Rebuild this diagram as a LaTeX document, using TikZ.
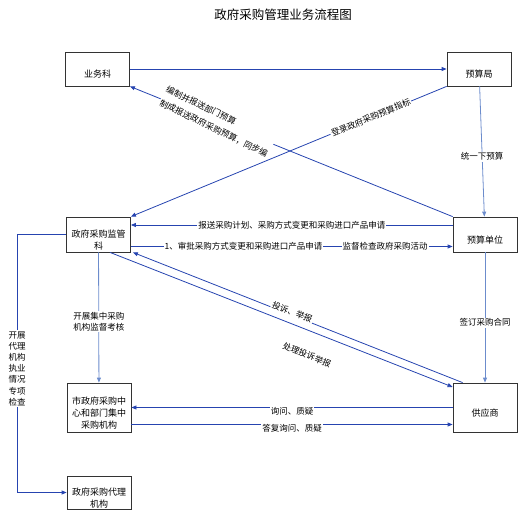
\documentclass[tikz,border=0pt]{standalone}
\usepackage{fontspec}
\setmainfont{Noto Sans CJK SC}
\usetikzlibrary{arrows.meta}

\definecolor{lineblue}{RGB}{38,68,176}
\definecolor{lightblue}{RGB}{108,140,204}
\newcommand{\boxtop}{\mbox{}\\[6pt]}

\tikzset{
    box/.style={draw=black!80, line width=0.8pt, minimum width=64pt, align=center, inner sep=1pt, font=\fontsize{9}{12}\selectfont},
    link/.style={draw=lineblue, line width=0.8pt, -{Triangle[length=5pt,width=4pt]}},
    vlink/.style={link, draw=lightblue},
    lbl/.style={fill=white, inner sep=1pt, align=center, font=\fontsize{8.5}{11}\selectfont}
}

\begin{document}
\begin{tikzpicture}[x=1pt, y=-1pt, font=\fontsize{9}{13}\selectfont]
        \useasboundingbox
            (0,0) rectangle (529,516);
        \node[font=\fontsize{12.5}{14}\selectfont] (title) at (283,15) {政府采购管理业务流程图};

        \node[box, minimum height=34pt] (yewu) at (97.5,69) {\boxtop 业务科};
        \node[box, minimum height=34pt] (ysj) at (479,69) {\boxtop 预算局};
        \node[box, minimum height=35pt] (jgk) at (98.5,234.5) {\boxtop 政府采购监管\\科};
        \node[box, minimum height=35pt] (ysdw) at (485,234.5) {\boxtop 预算单位};
        \node[box, minimum height=49pt] (szx) at (99,407.5) {\boxtop 市政府采购中\\心和部门集中\\采购机构};
        \node[box, minimum height=49pt] (gys) at (485,407.5) {\boxtop 供应商};
        \node[box, minimum height=33pt] (dl) at (99,492.5) {\boxtop 政府采购代理\\机构};

        \draw[link]
            (yewu) -- (ysj);
        \draw[link]
            (ysj.south west) -- node[lbl, sloped, pos=0.24]{登录政府采购预算指标} (jgk.north east);
        \draw[link]
            (ysdw.north west) -- node[lbl, rotate=-26, pos=0.73, align=left, font=\fontsize{8.5}{15}\selectfont]{编制并报送部门预算\\制成报送政府采购预算，同步编} (yewu.south east);
        \draw[vlink]
            (ysj) -- node[lbl, pos=0.54]{统一下预算} (ysdw);
        \draw[link]
            ([yshift=9.5pt]ysdw.west) -- node[lbl, pos=0.5]{报送采购计划、采购方式变更和采购进口产品申请} ([yshift=9.5pt]jgk.east);
        \draw[link]
            ([yshift=-12pt]jgk.east) -- node[lbl, pos=0.35]{1、审批采购方式变更和采购进口产品申请}
            node[lbl, pos=0.79]{监督检查政府采购活动} ([yshift=-12pt]ysdw.west);
        \draw[link]
            ([xshift=10pt]gys.north west) -- node[lbl, sloped, pos=0.52, yshift=3pt]{投诉、举报} ([xshift=2pt]jgk.south east);
        \draw[link]
            ([xshift=11.5pt]jgk.south) -- node[lbl, sloped, pos=0.6, anchor=north, yshift=-18pt]{处理投诉举报} ([yshift=20.5pt]gys.west);
        \draw[vlink]
            (jgk) -- node[lbl, pos=0.53]{开展集中采购\\机构监督考核} (szx);
        \draw[vlink]
            (ysdw) -- node[lbl, pos=0.54]{签订采购合同} (gys);
        \draw[link]
            (gys.west) -- node[lbl, pos=0.5, yshift=-4pt]{询问、质疑} (szx.east);
        \draw[link]
            ([yshift=-17pt]szx.east) -- node[lbl, pos=0.5, yshift=-4pt]{答复询问、质疑} ([yshift=-17pt]gys.west);
        \draw[link]
            (jgk.west) -- ++(-49,0) coordinate (corner)
            -- node[lbl, pos=0.52, font=\fontsize{8.5}{11.2}\selectfont]{开展\\代理\\机构\\执业\\情况\\专项\\检查} (corner |- dl.west)
            -- (dl.west);
    \end{tikzpicture}
\end{document}
